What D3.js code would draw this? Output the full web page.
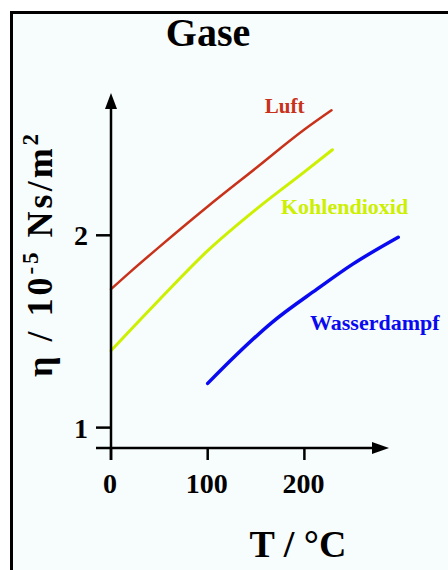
<!DOCTYPE html>
<html>
<head>
<meta charset="utf-8">
<script src="https://cdn.jsdelivr.net/npm/d3@7"></script>
<style>
  html, body { margin: 0; padding: 0; background: #ffffff; }
  svg { display: block; }
  text { font-family: "Liberation Serif", "Times New Roman", serif; font-weight: bold; }
</style>
</head>
<body>
<div id="chart"></div>
<script>
// Viskosität von Gasen
const luftT = [0, 20, 50, 100, 150, 200, 228];
const luftEta = [1.72, 1.81, 1.94, 2.15, 2.35, 2.55, 2.65];

const co2T = [0, 50, 100, 150, 200, 229];
const co2Eta = [1.40, 1.665, 1.92, 2.135, 2.33, 2.445];

const wasserT = [100, 130, 166, 213, 250, 297];
const wasserEta = [1.23, 1.38, 1.545, 1.72, 1.85, 1.99];

const seriesNames = ["Luft", "Kohlendioxid", "Wasserdampf"];
const xTicks = [0, 100, 200];
const yTicks = [1, 2];

(function() {
    const width = 448;
    const height = 570;

    const svg = d3.select("#chart")
        .append("svg")
        .attr("width", width)
        .attr("height", height);

    // frame, open to the right and bottom
    svg.append("rect")
        .attr("x", 11.5)
        .attr("y", 12.5)
        .attr("width", 460)
        .attr("height", 600)
        .attr("fill", "#f7fcfc")
        .attr("stroke", "#000")
        .attr("stroke-width", 3);

    const x = d3.scaleLinear().domain([0, 287.5]).range([111, 389]);
    const y = d3.scaleLinear().domain([0.894, 2.74]).range([448, 93]);

    const series = [
        { name: seriesNames[0], T: luftT, eta: luftEta, color: "#c8321a", width: 2.5, label: [159, 2.634], size: 21 },
        { name: seriesNames[1], T: co2T, eta: co2Eta, color: "#ccf000", width: 3, label: [175.8, 2.113], size: 22 },
        { name: seriesNames[2], T: wasserT, eta: wasserEta, color: "#0a0af0", width: 3.5, label: [205.8, 1.509], size: 22 }
    ];

    const line = d3.line()
        .x(d => x(d[0]))
        .y(d => y(d[1]))
        .curve(d3.curveMonotoneX);

    svg.selectAll(".curve")
        .data(series)
        .enter().append("path")
        .attr("class", "curve")
        .attr("d", s => line(s.T.map((t, i) => [t, s.eta[i]])))
        .attr("fill", "none")
        .attr("stroke", s => s.color)
        .attr("stroke-width", s => s.width)
        .attr("stroke-linecap", "round");

    svg.selectAll(".series-label")
        .data(series)
        .enter().append("text")
        .attr("class", "series-label")
        .attr("x", s => x(s.label[0]))
        .attr("y", s => y(s.label[1]))
        .attr("fill", s => s.color)
        .style("font-size", s => s.size + "px")
        .text(s => s.name);

    // axes with arrows
    const x0 = x(0);
    const yBase = y.range()[0];
    const yTop = y.range()[1];
    const xEnd = x.range()[1];

    svg.append("line")
        .attr("x1", x0).attr("x2", x0)
        .attr("y1", yBase + 12).attr("y2", yTop + 12)
        .attr("stroke", "#000").attr("stroke-width", 2.5);

    svg.append("path")
        .attr("d", `M${x0},${yTop} L${x0 - 6},${yTop + 16} L${x0 + 6},${yTop + 16} Z`)
        .attr("fill", "#000");

    svg.append("line")
        .attr("x1", x0 - 15).attr("x2", xEnd - 12)
        .attr("y1", yBase).attr("y2", yBase)
        .attr("stroke", "#000").attr("stroke-width", 2.5);

    svg.append("path")
        .attr("d", `M${xEnd},${yBase} L${xEnd - 17},${yBase - 6} L${xEnd - 17},${yBase + 6} Z`)
        .attr("fill", "#000");

    // x ticks
    svg.selectAll(".xtick")
        .data(xTicks)
        .enter().append("line")
        .attr("class", "xtick")
        .attr("x1", d => x(d)).attr("x2", d => x(d))
        .attr("y1", yBase).attr("y2", yBase + 12)
        .attr("stroke", "#000").attr("stroke-width", 2.5);

    svg.selectAll(".xlabel")
        .data(xTicks)
        .enter().append("text")
        .attr("class", "xlabel")
        .attr("x", d => x(d) - 1)
        .attr("y", yBase + 45)
        .attr("text-anchor", "middle")
        .style("font-size", "28px")
        .text(d => d);

    // y ticks
    svg.selectAll(".ytick")
        .data(yTicks)
        .enter().append("line")
        .attr("class", "ytick")
        .attr("x1", x0 - 15).attr("x2", x0)
        .attr("y1", d => y(d)).attr("y2", d => y(d))
        .attr("stroke", "#000").attr("stroke-width", 2.5);

    svg.selectAll(".ylabel")
        .data(yTicks)
        .enter().append("text")
        .attr("class", "ylabel")
        .attr("x", x0 - 23)
        .attr("y", d => y(d) + 10)
        .attr("text-anchor", "end")
        .style("font-size", "28px")
        .text(d => d);

    // title and axis titles
    svg.append("text")
        .attr("x", 208)
        .attr("y", 46)
        .attr("text-anchor", "middle")
        .style("font-size", "40px")
        .text("Gase");

    svg.append("text")
        .attr("x", 298)
        .attr("y", 557)
        .attr("text-anchor", "middle")
        .style("font-size", "38px")
        .text("T / °C");

    const yTitle = svg.append("text")
        .attr("transform", "translate(52,377) rotate(-90)")
        .style("font-size", "36px")
        .style("letter-spacing", "3px");
    yTitle.append("tspan").text("η / 10");
    yTitle.append("tspan").attr("dy", -14).style("font-size", "23px").text("-5");
    yTitle.append("tspan").attr("dy", 14).text(" Ns/m");
    yTitle.append("tspan").attr("dy", -14).style("font-size", "23px").text("2");
})();
</script>
</body>
</html>
